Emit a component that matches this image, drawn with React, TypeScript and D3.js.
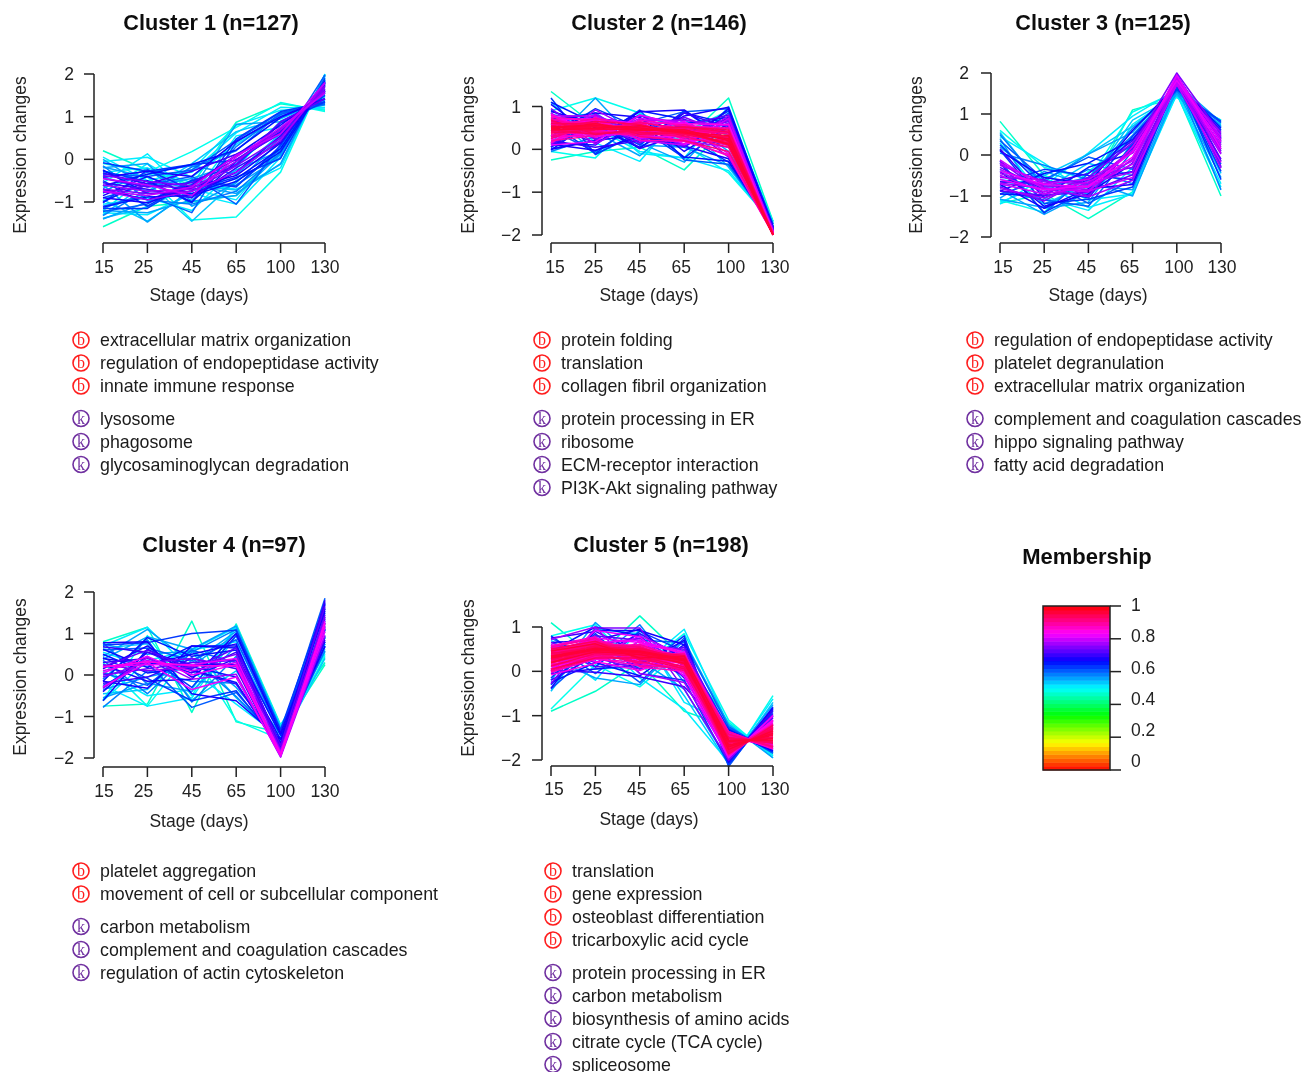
import React from "react";
import * as d3 from "d3";

// Expression traces. Individual traces overlap too
// densely to be separated, so each cluster holds a representative subset of its n lines.
const stages = ["15", "25", "45", "65", "100", "130"];

// Each row: membership, then expression at the six stages.
const cluster1Lines = [
  [.46,-1.58,-1.1,-1.0,-.85,.2,1.72],[.47,.2,-.25,-.6,.87,1.3,1.15],[.48,-.1,-.3,.18,.75,1.33,1.12],
  [.48,-1.2,-.4,-1.42,-1.35,-.3,2.0],[.5,-.55,.13,-.9,.55,.75,1.45],[.5,-.3,-.2,-.55,-.7,-.2,2.0],
  [.5,-1.05,-.9,-1.2,-.2,.9,1.32],[.5,.05,-.5,-.25,.8,1.15,1.22],[.51,-.98,-.35,-.3,.62,1.22,1.18],
  [.52,-1.25,-1.3,-.8,-1.05,.05,1.9],[.52,-.8,-.1,-.7,-.95,.3,1.78],[.52,-.05,.05,-.42,.35,1.02,1.28],
  [.53,-1.3,-.55,-1.45,-.5,.1,1.85],[.53,-.4,-.75,-.1,.65,.95,1.38],[.54,-.95,-1.45,-.75,-.3,.6,1.55],
  [.54,-1.38,-1.12,-.62,-.72,-.12,1.95],[.55,-.18,-.42,-.72,.82,.88,1.4],[.55,-1.4,-1.0,-.6,-.8,-.1,1.98],
  [.55,-.2,-.1,-1.1,-.55,.45,1.65],[.56,-.68,-.22,-.98,-.85,.12,1.85],[.56,-1.2,-1.25,-.95,-.25,.2,1.8],
  [.57,0,-.65,-.45,-.1,.7,1.5],[.57,-.6,-1.47,-.7,-.6,.05,1.95],[.58,-1.15,-.78,-.18,.2,1.08,1.3],
  [.58,-1.32,-.72,-.9,.3,1.08,1.28],[.59,-.15,-.95,-1.05,-.75,.15,1.82],[.59,-.75,-.3,-.15,-.35,.5,1.6],
  [.6,-1.1,-.85,-1.25,.4,1.05,1.35],[.6,-.35,-.4,-.25,.45,1.1,1.3],[.61,-1.22,-1.05,-.48,-.62,.25,1.75],
  [.61,-.9,-.6,-.4,-1.05,.35,1.98],[.62,-1.15,-1.15,-.5,-.65,.32,1.85],[.62,-.5,-1.1,-.5,-.15,.85,1.35],
  [.63,-.08,-.28,-.12,-.02,.72,1.5],[.63,-1.02,-.25,-.72,-.42,.02,1.9],[.64,-.28,-.52,-1.02,.48,1.12,1.34],
  [.65,-1.0,-.5,-1,-.05,.65,1.58],[.65,-.25,-.8,-.8,-.45,.25,1.82],[.66,-.62,-.35,-.12,.22,.98,1.42],
  [.66,-1.12,-.88,-.85,-.52,.18,1.78],[.67,-.7,-.95,-.6,.1,.8,1.55],[.67,-.85,-.4,-.85,-.3,.55,1.6],
  [.68,-.42,-.28,-.4,.42,1.0,1.42],[.69,-.9,-1.02,-.65,-.38,.38,1.75],[.7,-.32,-.58,-.28,.12,.62,1.62],
  [.71,-.55,-.7,-.9,-.2,.4,1.8],[.72,-.45,-.65,-.55,0,.6,1.7],[.73,-.78,-.62,-.68,-.12,.88,1.42],
  [.74,-.7,-.8,-.75,-.15,.5,1.72],[.75,-.38,-.52,-.62,.08,.68,1.66],[.77,-.6,-.75,-.7,-.05,.7,1.6],
  [.78,-.75,-.95,-.75,-.3,.45,1.78],[.79,-.45,-.6,-.85,.05,.75,1.55],[.8,-.75,-.85,-.65,.1,.6,1.8],
];

const cluster2Lines = [
  [.46,1.35,.55,.5,.2,1.2,-1.68],[.47,-.25,-.05,.05,-.48,.55,-1.68],[.48,.9,1.2,.85,.4,.9,-1.7],
  [.48,-.05,-.2,.85,.1,-.55,-1.72],[.5,1.1,.15,-.28,.9,.3,-1.72],[.5,.45,.5,-.05,-.2,-.5,-1.75],
  [.52,.05,.85,-.1,-.2,1.0,-1.8],[.54,.85,-.1,.35,.65,-.42,-1.78],[.55,.3,.4,-.15,.7,-.05,-1.78],
  [.56,.7,.85,.15,-.3,.75,-1.75],[.57,.15,1.2,.1,.05,-.38,-1.8],[.58,-.05,.3,.8,.5,.1,-1.85],
  [.6,.45,-.05,.6,.88,.95,-1.8],[.6,.8,.75,.25,.05,.85,-1.85],[.61,.02,.2,.92,-.25,-.35,-1.82],
  [.62,.05,.65,.1,.9,.2,-1.82],[.63,.3,.95,.5,-.2,.55,-1.9],[.63,1.2,-.12,.4,.3,-.3,-1.84],
  [.64,.6,-.1,.7,.25,.9,-1.75],[.65,.15,.1,.9,.7,.4,-1.88],[.65,1.1,.6,.02,.85,.6,-1.82],
  [.66,.9,.5,.05,.6,.75,-1.8],[.66,-.02,.72,.62,-.18,-.28,-1.84],[.67,0,.2,.35,.1,.95,-1.92],
  [.67,1.05,.28,.88,.92,.2,-1.86],[.68,.65,.85,.75,-.05,.6,-1.85],[.68,.12,-.02,.3,.08,-.22,-1.88],
  [.69,.88,.62,.15,.78,.98,-1.84],[.7,.2,.05,.2,.85,.5,-1.9],[.7,.75,.35,.8,.3,.1,-1.82],
  [.71,.05,.8,.02,.38,.72,-1.9],[.72,.1,.75,.4,.55,.8,-1.95],[.73,.55,.15,.65,.05,.7,-1.88],
  [.74,.95,.22,.78,.6,-.18,-1.9],[.75,.25,.6,.15,.75,.35,-1.92],[.76,.72,.25,.55,.45,.65,-1.85],
  [.77,.12,.92,.38,.12,.78,-1.92],[.78,.3,.82,.3,.2,.05,-1.95],[.78,.85,.12,.68,.68,.55,-1.9],
  [.79,.62,.3,.72,.62,.25,-1.9],[.8,.18,.48,.25,.35,.6,-1.95],[.8,.78,.78,.2,.1,.72,-1.92],
  [.81,.1,.18,.8,.55,-.1,-1.94],[.82,.68,.72,.6,.12,.42,-1.9],[.83,.32,.3,.4,.65,.12,-1.96],
  [.84,.58,.68,.28,.3,.5,-1.92],[.84,.82,.35,.62,.6,.58,-1.94],[.85,.22,.42,.62,.22,.22,-1.97],
  [.86,.7,.55,.45,.52,.38,-1.93],[.86,.15,.75,.22,.18,-.12,-1.97],[.87,.38,.7,.35,.4,.08,-1.98],
  [.87,.8,.28,.68,.56,.48,-1.95],[.88,.28,.35,.58,.28,.3,-1.96],[.88,.75,.68,.3,.22,-.15,-1.98],
  [.89,.62,.62,.42,.58,.25,-1.94],[.89,.2,.32,.65,.42,.42,-1.98],[.9,.35,.4,.32,.38,.42,-1.98],
  [.9,.55,.72,.55,.25,.15,-1.96],[.9,.72,.42,.38,.5,.5,-1.97],[.91,.42,.48,.62,.48,.35,-1.98],
  [.91,.25,.62,.3,.2,-.05,-1.99],[.92,.65,.38,.38,.3,.05,-1.97],[.92,.3,.55,.5,.42,.28,-2],
  [.93,.5,.65,.58,.35,.18,-1.98],[.93,.68,.35,.45,.52,.45,-1.99],[.93,.45,.35,.45,.52,.4,-1.99],
  [.94,.6,.6,.35,.4,.1,-1.98],[.94,.38,.45,.52,.32,.3,-2],[.95,.55,.52,.48,.44,.22,-1.99],
  [.95,.42,.58,.4,.36,.15,-2],[.96,.5,.5,.55,.4,.32,-1.99],[.96,.48,.6,.44,.46,.2,-2],
  [.97,.52,.55,.5,.38,.25,-2],[.97,.46,.48,.46,.42,.12,-2],
];

const cluster3Lines = [
  [.46,.82,-.5,-.85,1.1,1.4,.85],[.47,-1.18,-.95,-1.55,-.9,1.5,-1],[.48,.6,-.3,-.6,1.05,1.55,.6],
  [.48,-1.1,-1.4,-.4,.4,1.42,.75],[.5,.3,-1.05,-1.35,-.3,1.45,.85],[.5,-.6,-.75,.05,.95,1.6,.1],
  [.51,-1.15,-.72,-1.28,-.95,1.48,-.78],[.52,-1.2,-.55,-1.1,-.95,1.55,-.7],[.52,.45,-.2,-.95,.75,1.5,.7],
  [.53,-.35,-1.2,-.7,.85,1.45,.5],[.54,.55,-.85,-.2,-.5,1.7,-.45],[.54,-.78,-.5,.02,.7,1.52,.62],
  [.55,-.85,-1.45,-.9,-.1,1.5,.25],[.56,.2,-.65,.02,.55,1.75,.8],[.56,-1.08,-1.28,-.62,-1.0,1.6,-.55],
  [.57,-1.05,-.4,-.75,-.85,1.65,.05],[.57,.4,-1.3,-1.15,.3,1.6,.72],[.58,.5,-.78,-.55,.48,1.68,.68],
  [.58,-.5,-.9,-.35,-.7,1.8,-.85],[.59,.05,-.25,-.6,.65,1.55,.55],[.6,-.95,-.62,-1.18,-.6,1.72,-.22],
  [.6,-.88,-1.1,-1.25,.1,1.7,.35],[.61,.35,-.6,-.05,-.35,1.85,-.3],[.61,-.15,-1.42,-.45,.25,1.58,.78],
  [.62,-.2,-1.4,-.85,.45,1.6,.82],[.63,-.7,-.35,-.5,-.6,1.9,-.6],[.63,.12,-1.18,-1.08,-.78,1.78,-.4],
  [.64,.25,-.8,-1.05,.25,1.65,.45],[.65,-.88,-.45,-.2,.38,1.72,.42],[.66,-.95,-1.0,-.3,.05,1.75,.65],
  [.67,.1,-.55,-.7,.6,1.7,.15],[.68,-.72,-1.3,-.82,-.72,1.92,-.15],[.69,-.4,-1.25,-.95,-.2,1.95,.3],
  [.7,-.65,-.7,-.45,.35,1.75,.6],[.71,.15,-1.05,-.6,-.4,1.85,.4],[.72,-.88,-.98,-.9,-.48,1.88,-.28],
  [.73,-.3,-.85,-.75,.15,1.8,-.1],[.74,-.55,-.6,-1,.2,2,.5],[.75,-.78,-1.12,-.55,-.3,1.82,.1],
  [.76,-.15,-.95,-.55,.3,1.75,.35],[.77,-.68,-.82,-1.02,-.62,1.9,-.32],[.78,-.45,-.75,-.85,-.1,1.85,.2],
  [.78,-.25,-.65,-.7,.1,1.7,.55],[.78,-.82,-1.05,-.68,-.42,1.78,.02],[.79,-.5,-.9,-.65,-.15,1.9,.05],
  [.79,-.12,-.82,-.88,-.55,1.72,-.18],[.8,-.35,-.8,-.9,.2,1.8,.45],[.8,-.7,-.95,-.78,-.22,1.92,.38],
  [.8,-.2,-.7,-.6,.05,1.75,.25],[.81,-.6,-.85,-.75,-.05,1.95,.15],[.81,-.4,-.72,-.78,.08,1.82,.32],
];

const cluster4Lines = [
  [.46,-.75,-.7,1.3,-1.13,-1.4,.25],[.47,.8,1.15,-.9,1.23,-1.2,.3],[.48,.3,-.75,.6,-1.1,-1.55,.45],
  [.48,-.6,.95,-.5,1.2,-1.25,.5],[.5,.55,.2,.6,1.15,-1.22,.75],[.5,-.25,-.75,-.55,.95,-1.3,.55],
  [.51,.7,1.15,.1,-.7,-1.5,.62],[.51,-.62,.35,.6,.8,-1.3,.9],[.52,.1,-.5,-.35,1.15,-1.35,.7],
  [.53,.65,.75,-.6,.1,-1.45,1.05],[.54,-.45,-.35,.65,-.55,-1.6,.4],[.55,.45,1.1,.3,1.05,-1.3,.9],
  [.55,.38,.92,.62,1.18,-1.28,1.1],[.56,-.55,-.2,-.4,.7,-1.45,1.4],[.56,.75,.5,.58,-.3,-1.55,.75],
  [.57,-.35,-.05,.2,1.0,-1.38,1.18],[.58,-.1,.85,-.65,.45,-1.7,1.3],[.58,.35,-.45,.55,1.1,-1.35,1.6],
  [.59,-.78,.1,-.15,-.2,-1.8,.95],[.59,.78,-.22,.42,-.52,-1.6,.58],[.6,.6,.65,.35,.85,-1.42,1.85],
  [.6,-.25,.28,-.78,-.42,-1.65,.8],[.61,.05,-.25,.6,.3,-1.85,1.1],[.62,.72,.78,1.0,1.08,-1.32,1.72],
  [.63,-.3,.45,-.3,.95,-1.4,1.5],[.64,.42,-.08,-.62,-.38,-1.72,.68],[.65,.5,.05,.2,-.05,-1.92,1.7],
  [.65,-.62,.62,.12,-.18,-1.85,.92],[.66,-.15,.9,.45,.6,-1.45,.8],[.66,.62,.18,.7,.65,-1.68,1.6],
  [.67,.25,-.15,-.1,1,-1.4,1.25],[.67,.78,.8,-.45,-.62,-1.55,.7],[.68,-.4,.55,.25,.25,-1.65,1.75],
  [.68,.4,.25,.5,.75,-1.75,1.35],[.69,.15,.7,-.05,.4,-1.55,1.55],[.69,-.15,-.32,.7,.7,-1.82,1.1],
  [.7,-.2,-.05,.4,.15,-1.95,1.8],[.7,.68,.55,.1,-.22,-1.78,.85],[.71,.3,.4,.05,.55,-1.75,1.15],
  [.72,0,.15,.3,.35,-1.9,1.45],[.73,.2,.6,.15,.65,-1.7,1.65],[.74,-.05,.3,.4,.2,-1.95,1.25],
  [.76,.25,.1,.2,.5,-1.8,1.4],[.78,-.32,.42,-.1,.02,-1.98,.95],[.8,.1,.35,.1,.3,-1.85,1.2],
  [.81,.2,.25,.25,.4,-1.9,1.3],[.82,-.28,.3,-.35,-.05,-1.95,1.05],[.83,.05,.45,0,.25,-1.95,1.15],
  [.84,.2,.32,.22,.22,-1.92,1.25],
];

const cluster5Lines = [
  [.46,1.1,.3,1.25,.3,-1.15,-1.9],[.46,-.9,-.45,.2,-.9,-1.25,-1.85],[.48,.8,1.05,.05,.85,-1.1,-1.95],
  [.48,-.85,.15,-.35,.5,-2.1,-.55],[.5,.55,-.2,.95,-.7,-1.18,-1.9],[.5,-.3,.8,-.15,-.85,-2.05,-.62],
  [.52,.7,.05,.1,.95,-1.22,-1.85],[.54,-.45,.95,.85,-.55,-2.1,-.7],[.55,.3,-.15,-.3,.7,-1.2,-1.95],
  [.56,-.2,1.1,.25,-.4,-2.05,-.75],[.58,.75,.25,1.05,-.25,-1.28,-1.8],[.6,-.4,.5,-.25,.75,-2.15,-.8],
  [.6,.6,-.05,.7,.65,-1.25,-1.85],[.62,-.15,.85,-.05,-.2,-2.1,-.85],[.63,.8,.1,.9,.45,-1.3,-1.82],
  [.64,-.3,.65,.05,.8,-2.1,-.9],[.65,.45,1,.8,-.15,-1.32,-1.8],[.66,-.25,.2,-.1,.6,-2.02,-.95],
  [.67,.65,.7,.95,.1,-1.38,-1.78],[.68,-.05,.05,.15,.7,-1.98,-1.0],[.69,-.38,.92,.92,.6,-2.05,-.82],
  [.7,.75,.9,.4,-.1,-1.35,-1.75],[.7,-.2,.35,.85,.3,-2.02,-.88],[.71,.02,-.02,-.12,-.35,-1.4,-1.72],
  [.72,.55,.1,.2,.55,-1.42,-1.72],[.73,0,.8,.7,-.05,-1.95,-1.05],[.74,.65,.3,.05,.4,-1.45,-1.68],
  [.74,-.28,.98,.98,-.4,-2.0,-.98],[.75,-.05,.6,.75,.15,-1.98,-1.02],[.76,.5,.2,.6,.5,-1.45,-1.7],
  [.77,.72,1.0,-.05,-.25,-1.9,-1.1],[.78,.05,.75,.15,.05,-1.52,-1.62],[.79,.6,.35,.8,.35,-1.88,-1.12],
  [.8,.1,.55,.25,.2,-1.48,-1.65],[.81,.55,.75,.65,.45,-1.85,-1.15],[.82,.15,.3,.3,.1,-1.5,-1.68],
  [.82,.02,.92,.78,-.12,-1.95,-1.0],[.83,.5,.65,.7,.4,-1.8,-1.2],[.84,.05,.4,.55,.3,-1.62,-1.5],
  [.84,.58,.22,.02,.38,-1.42,-1.72],[.85,.45,.7,.2,.08,-1.45,-1.7],[.85,.12,.28,.62,.42,-1.9,-1.12],
  [.85,-.08,.18,.68,-.05,-1.88,-1.1],[.86,.52,.6,.32,.18,-1.55,-1.58],[.86,.1,.42,.52,.28,-1.82,-1.25],
  [.86,.58,.78,.1,.0,-1.4,-1.75],[.87,.48,.72,.45,.38,-1.4,-1.7],[.87,.16,.34,.3,.12,-1.72,-1.3],
  [.87,-.02,.28,.2,.05,-1.85,-1.18],[.88,.42,.62,.58,.32,-1.9,-1.18],[.88,.2,.38,.38,.16,-1.5,-1.66],
  [.88,.52,.3,.12,.38,-1.36,-1.75],[.89,.5,.68,.5,.36,-1.78,-1.22],[.89,.22,.44,.28,.22,-1.36,-1.72],
  [.89,.0,.3,.5,.02,-1.84,-1.2],[.9,.4,.55,.6,.26,-1.88,-1.2],[.9,.14,.32,.42,.18,-1.62,-1.48],
  [.9,.46,.66,.36,.4,-1.46,-1.68],[.9,.55,.74,.12,.08,-1.72,-1.32],[.91,.26,.4,.54,.14,-1.84,-1.25],
  [.91,.38,.6,.46,.34,-1.52,-1.6],[.91,.18,.46,.34,.24,-1.7,-1.38],[.91,.02,.36,.22,.02,-1.42,-1.7],
  [.92,.44,.58,.56,.2,-1.8,-1.28],[.92,.24,.36,.4,.3,-1.42,-1.7],[.92,.36,.64,.48,.16,-1.74,-1.34],
  [.92,.52,.42,.18,.36,-1.6,-1.5],[.93,.28,.48,.52,.28,-1.6,-1.5],[.93,.42,.42,.44,.36,-1.86,-1.22],
  [.93,.2,.52,.36,.22,-1.5,-1.6],[.93,.05,.3,.3,.06,-1.68,-1.42],[.94,.34,.56,.5,.26,-1.68,-1.42],
  [.94,.3,.44,.42,.32,-1.78,-1.3],[.94,.4,.54,.46,.18,-1.56,-1.55],[.94,.5,.68,.26,.3,-1.72,-1.36],
  [.95,.26,.5,.38,.24,-1.72,-1.38],[.95,.36,.46,.48,.3,-1.82,-1.28],[.95,.32,.58,.42,.2,-1.62,-1.48],
  [.95,.12,.4,.34,.1,-1.5,-1.62],[.96,.3,.5,.44,.26,-1.7,-1.4],[.96,.34,.52,.46,.28,-1.76,-1.34],
  [.96,.46,.62,.3,.34,-1.55,-1.56],[.97,.32,.48,.42,.24,-1.66,-1.44],[.97,.2,.44,.38,.18,-1.58,-1.52],
];

const cluster1Bio = ["extracellular matrix organization", "regulation of endopeptidase activity", "innate immune response"];
const cluster1Kegg = ["lysosome", "phagosome", "glycosaminoglycan degradation"];
const cluster2Bio = ["protein folding", "translation", "collagen fibril organization"];
const cluster2Kegg = ["protein processing in ER", "ribosome", "ECM-receptor interaction", "PI3K-Akt signaling pathway"];
const cluster3Bio = ["regulation of endopeptidase activity", "platelet degranulation", "extracellular matrix organization"];
const cluster3Kegg = ["complement and coagulation cascades", "hippo signaling pathway", "fatty acid degradation"];
const cluster4Bio = ["platelet aggregation", "movement of cell or subcellular component"];
const cluster4Kegg = ["carbon metabolism", "complement and coagulation cascades", "regulation of actin cytoskeleton"];
const cluster5Bio = ["translation", "gene expression", "osteoblast differentiation", "tricarboxylic acid cycle"];
const cluster5Kegg = ["protein processing in ER", "carbon metabolism", "biosynthesis of amino acids", "citrate cycle (TCA cycle)", "spliceosome"];

const membershipTicks = [0, 0.2, 0.4, 0.6, 0.8, 1];
const FONT = "'Liberation Sans', Arial, sans-serif";
const INK = "#222";
const BIO = "#ff1f1f";
const KEGG = "#7030a0";
const BANDS = 42;

const membershipColor = (m: number) => {
  const band = Math.min(BANDS - 1, Math.floor(m * BANDS));
  return d3.hsl((360 * (band + 0.5)) / BANDS, 1, 0.5).formatHex();
};

type Layout = {
  title: string; titleX: number; titleY: number; lines: number[][];
  yAxisX: number; yTicks: number[]; yDomain: [number, number]; yRange: [number, number];
  yLabelX: number; yLabelY: number; yTickRight: number;
  xAxisY: number; xRange: [number, number]; labelY: number; labelShift: number[];
  stageX: number; stageY: number;
  bio: string[]; kegg: string[]; iconX: number; textX: number; bioY: number; keggY: number;
};

const panels: Layout[] = [
  { title: "Cluster 1 (n=127)", titleX: 211, titleY: 22, lines: cluster1Lines, yAxisX: 94, yTicks: [-1, 0, 1, 2], yDomain: [-1, 2], yRange: [202, 74], yLabelX: 20, yLabelY: 155, yTickRight: 74, xAxisY: 243, xRange: [103, 325], labelY: 267, labelShift: [1, -4, 0, 0, 0, 0], stageX: 199, stageY: 295, bio: cluster1Bio, kegg: cluster1Kegg, iconX: 81, textX: 100, bioY: 340, keggY: 418.5 },
  { title: "Cluster 2 (n=146)", titleX: 659, titleY: 22, lines: cluster2Lines, yAxisX: 542, yTicks: [-2, -1, 0, 1], yDomain: [-2, 1], yRange: [235, 106.5], yLabelX: 468, yLabelY: 155, yTickRight: 521, xAxisY: 243, xRange: [551, 773], labelY: 267, labelShift: [4, -2, -3, -3, 2, 2], stageX: 649, stageY: 295, bio: cluster2Bio, kegg: cluster2Kegg, iconX: 542, textX: 561, bioY: 340, keggY: 418.5 },
  { title: "Cluster 3 (n=125)", titleX: 1103, titleY: 22, lines: cluster3Lines, yAxisX: 991, yTicks: [-2, -1, 0, 1, 2], yDomain: [-2, 2], yRange: [237, 73], yLabelX: 916, yLabelY: 155, yTickRight: 969, xAxisY: 243, xRange: [1000, 1221], labelY: 267, labelShift: [3, -2, -2, -3, 2, 1], stageX: 1098, stageY: 295, bio: cluster3Bio, kegg: cluster3Kegg, iconX: 975, textX: 994, bioY: 340, keggY: 418.5 },
  { title: "Cluster 4 (n=97)", titleX: 224, titleY: 544, lines: cluster4Lines, yAxisX: 94, yTicks: [-2, -1, 0, 1, 2], yDomain: [-2, 2], yRange: [758, 592], yLabelX: 20, yLabelY: 677, yTickRight: 74, xAxisY: 767, xRange: [103, 325], labelY: 791, labelShift: [1, -4, 0, 0, 0, 0], stageX: 199, stageY: 821, bio: cluster4Bio, kegg: cluster4Kegg, iconX: 81, textX: 100, bioY: 871, keggY: 926.5 },
  { title: "Cluster 5 (n=198)", titleX: 661, titleY: 544, lines: cluster5Lines, yAxisX: 542, yTicks: [-2, -1, 0, 1], yDomain: [-2, 1], yRange: [760, 627], yLabelX: 468, yLabelY: 678, yTickRight: 521, xAxisY: 766, xRange: [551, 773], labelY: 789, labelShift: [3, -3, -3, -4, 3, 2], stageX: 649, stageY: 819, bio: cluster5Bio, kegg: cluster5Kegg, iconX: 553, textX: 572, bioY: 871, keggY: 972.5 },
];

function Panel({ p }: { p: Layout }) {
  const x = d3.scalePoint<string>().domain(stages).range(p.xRange);
  const y = d3.scaleLinear().domain(p.yDomain).range(p.yRange);
  const line = d3.line<number>().x((_, i) => x(stages[i]) as number).y((v) => y(v));
  const bottom = d3.min(p.yTicks) as number;
  const top = d3.max(p.yTicks) as number;
  const ordered = [...p.lines].sort((a, b) => d3.ascending(a[0], b[0]));
  return (
    <g fontFamily={FONT} fill={INK}>
      <text x={p.titleX} y={p.titleY} dy="0.35em" textAnchor="middle" fontSize={21.7} fontWeight="bold" fill="#111">{p.title}</text>
      <g fill="none" strokeWidth={1.5} strokeLinejoin="round">
        {ordered.map((row, i) => (
          <path key={i} d={line(row.slice(1)) as string} stroke={membershipColor(row[0])} />
        ))}
      </g>
      <path d={`M${p.yAxisX},${y(bottom)}V${y(top)}`} stroke={INK} strokeWidth={1.5} fill="none" />
      {p.yTicks.map((t) => (
        <g key={t}>
          <path d={`M${p.yAxisX - 10},${y(t)}H${p.yAxisX}`} stroke={INK} strokeWidth={1.5} />
          <text x={p.yTickRight} y={y(t)} dy="0.35em" textAnchor="end" fontSize={17.5}>{t < 0 ? `\u2212${-t}` : t}</text>
        </g>
      ))}
      <text transform={`translate(${p.yLabelX},${p.yLabelY}) rotate(-90)`} dy="0.35em" textAnchor="middle" fontSize={17.5}>Expression changes</text>
      <path d={`M${p.xRange[0]},${p.xAxisY}H${p.xRange[1]}`} stroke={INK} strokeWidth={1.5} fill="none" />
      {stages.map((s, i) => (
        <g key={s}>
          <path d={`M${x(s)},${p.xAxisY}v10`} stroke={INK} strokeWidth={1.5} />
          <text x={(x(s) as number) + p.labelShift[i]} y={p.labelY} dy="0.35em" textAnchor="middle" fontSize={17.5}>{s}</text>
        </g>
      ))}
      <text x={p.stageX} y={p.stageY} dy="0.35em" textAnchor="middle" fontSize={17.5}>Stage (days)</text>
      <Terms terms={p.bio} glyph="b" color={BIO} iconX={p.iconX} textX={p.textX} startY={p.bioY} />
      <Terms terms={p.kegg} glyph="k" color={KEGG} iconX={p.iconX} textX={p.textX} startY={p.keggY} />
    </g>
  );
}

function Terms({ terms, glyph, color, iconX, textX, startY }: { terms: string[]; glyph: string; color: string; iconX: number; textX: number; startY: number }) {
  return (
    <>
      {terms.map((t, i) => (
        <g key={t}>
          <circle cx={iconX} cy={startY + i * 23} r={8} fill="none" stroke={color} strokeWidth={1.6} />
          <text x={iconX} y={startY + i * 23} dy="0.33em" textAnchor="middle" fontSize={16} fontFamily="'Liberation Serif', serif" fill={color}>{glyph}</text>
          <text x={textX} y={startY + i * 23} dy="0.35em" fontSize={17.8} fill="#1a1a1a">{t}</text>
        </g>
      ))}
    </>
  );
}

function Legend() {
  const barY = d3.scaleLinear().domain([0, 1]).range([770, 606]);
  const labelY = d3.scaleLinear().domain([0, 1]).range([761, 605]);
  const bands = d3.range(BANDS);
  return (
    <g fontFamily={FONT} fill={INK}>
      <text x={1087} y={556} dy="0.35em" textAnchor="middle" fontSize={22} fontWeight="bold" fill="#111">Membership</text>
      {bands.map((b) => (
        <rect key={b} x={1043} width={67} y={barY((b + 1) / BANDS)} height={barY(b / BANDS) - barY((b + 1) / BANDS) + 0.5} fill={membershipColor((b + 0.5) / BANDS)} />
      ))}
      <rect x={1043} y={606} width={67} height={164} fill="none" stroke={INK} strokeWidth={1.5} />
      {membershipTicks.map((t) => (
        <g key={t}>
          <path d={`M1110,${barY(t)}h11`} stroke={INK} strokeWidth={1.5} />
          <text x={1131} y={labelY(t)} dy="0.35em" fontSize={17.5}>{t}</text>
        </g>
      ))}
    </g>
  );
}

export default function App() {
  return (
    <svg width={1301} height={1072} viewBox="0 0 1301 1072" style={{ position: "absolute", left: 0, top: 0, background: "#fff" }}>
      <defs>
        <filter id="soft" x="0" y="0" width="100%" height="100%">
          <feGaussianBlur stdDeviation="0.35" />
        </filter>
      </defs>
      <g filter="url(#soft)">
        <rect width={1301} height={1072} fill="#fff" />
        {panels.map((p) => <Panel key={p.title} p={p} />)}
        <Legend />
      </g>
    </svg>
  );
}
